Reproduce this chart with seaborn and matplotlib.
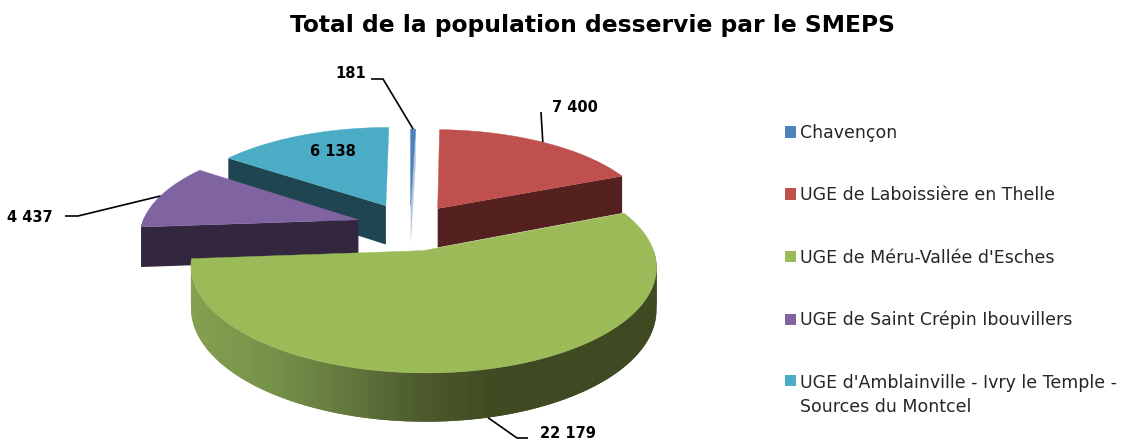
import numpy as np
import matplotlib
matplotlib.use("Agg")
import matplotlib.pyplot as plt
from matplotlib.patches import Patch
import seaborn as sns

title = "Total de la population desservie par le SMEPS"
categories = ["Chavençon", "UGE de Laboissière en Thelle", "UGE de Méru-Vallée d'Esches",
              "UGE de Saint Crépin Ibouvillers", "UGE d'Amblainville - Ivry le Temple -\nSources du Montcel"]
population = [181, 7400, 22179, 4437, 6138]
value_labels = ["181", "7 400", "22 179", "4 437", "6 138"]

# pie layout, in pixels
center_x, center_y = 410, 226
radii = [214, 217, 222, 217, 217]
squash = 0.436
perspective = 0.00065
depth = 40
explode = [46, 50, 56, 54, 54]
draw_order = [4, 0, 1, 3, 2]

top_colors = ["#4F81BD", "#C0504D", "#9BBB59", "#8064A2", "#4BACC6"]
side_colors = ["#B4C8E2", "#552020", "#3F4A22", "#33273F", "#1F4650"]
green_side = ["#85A050", "#76934A", "#64793E", "#4C5A2C", "#3F4A22", "#3F4A22", "#3F4A22"]

sns.set_theme(style="white")
plt.rcParams["font.family"] = ["DejaVu Sans"]
palette = sns.color_palette(top_colors)


def project(x, y, z=0.0):
    """Plane coordinates to picture pixels, nearer points get bigger."""
    scale = 1 / (1 + y * perspective)
    return center_x + x * scale, center_y - y * squash * scale + z * depth * scale


def slice_outline(i, start, end):
    mid = (start + end) / 2
    ox = explode[i] * np.sin(mid)
    oy = explode[i] * np.cos(mid)
    angles = np.linspace(start, end, 120)
    return ox, oy, ox + radii[i] * np.sin(angles), oy + radii[i] * np.cos(angles), angles


def quad(ax, x0, y0, x1, y1, color):
    ax0, ay0 = project(x0, y0)
    ax1, ay1 = project(x1, y1)
    bx1, by1 = project(x1, y1, 1)
    bx0, by0 = project(x0, y0, 1)
    ax.fill([ax0, ax1, bx1, bx0], [ay0, ay1, by1, by0], color=color, lw=0)


fig = plt.figure(figsize=(11.36, 4.43), dpi=100)
ax = fig.add_axes([0, 0, 1, 1])
ax.set_xlim(0, 1136)
ax.set_ylim(443, 0)
ax.axis("off")

edges = np.cumsum([0] + population) / sum(population) * 2 * np.pi
shades = sns.blend_palette(green_side, n_colors=100)

for i in draw_order:
    ox, oy, arc_x, arc_y, angles = slice_outline(i, edges[i], edges[i + 1])
    # only the faces turned towards the viewer
    if np.sin(edges[i + 1]) > 0.001:
        quad(ax, ox, oy, arc_x[-1], arc_y[-1], side_colors[i])
    if np.sin(edges[i]) < -0.001:
        quad(ax, ox, oy, arc_x[0], arc_y[0], side_colors[i])
    for k in range(len(arc_x) - 2):
        if np.cos(angles[k]) > 0.02:
            continue
        color = side_colors[i]
        if i == 2:
            px = project(arc_x[k], arc_y[k])[0]
            color = shades[int(np.clip((px - 190) / 465 * 99, 0, 99))]
        quad(ax, arc_x[k], arc_y[k], arc_x[k + 2], arc_y[k + 2], color)
    top_x, top_y = project(np.r_[ox, arc_x], np.r_[oy, arc_y])
    ax.fill(top_x, top_y, color=palette[i], lw=0.3)

# value labels with their leader lines, anchored at the middle of each arc
label_style = dict(fontsize=10.5, fontweight="bold", color="black", va="center")
label_pos = [(366, 73, "right"), (552, 107, "left"), (540, 433, "left"), (53, 217, "right")]
elbows = [[(383, 79), (371, 79)], [(541, 112)], [(517, 438), (528, 438)], [(78, 216), (65, 216)]]
for i in range(4):
    mid = (edges[i] + edges[i + 1]) / 2
    reach = radii[i] + explode[i]
    z = 1 if i == 2 else 0
    start = project(reach * np.sin(mid), reach * np.cos(mid), z)
    xs, ys = zip(start, *elbows[i])
    ax.plot(xs, ys, color="black", lw=1.2, solid_capstyle="butt")
    x, y, ha = label_pos[i]
    ax.text(x, y, value_labels[i], ha=ha, **label_style)
ax.text(333, 152, value_labels[4], ha="center", **label_style)

ax.text(593, 25, title, ha="center", va="center", fontsize=16.8, fontweight="bold", color="black")

handles = [Patch(color=c, lw=0) for c in palette]
legend = ax.legend(handles, categories, loc="upper left", bbox_to_anchor=(785 / 1136, 1 - 124 / 443),
                   frameon=False, fontsize=12.5, labelspacing=2.55, handlelength=0.63, handleheight=0.63,
                   handletextpad=0.25, borderpad=0, borderaxespad=0, labelcolor="#262626")
legend.get_texts()[4].set_linespacing(1.45)
# the two line entry keeps its square on the first line
last_patch = legend.get_patches()[4]
last_patch.set_y(last_patch.get_y() + 11)

fig.savefig("out.png", dpi=100)
